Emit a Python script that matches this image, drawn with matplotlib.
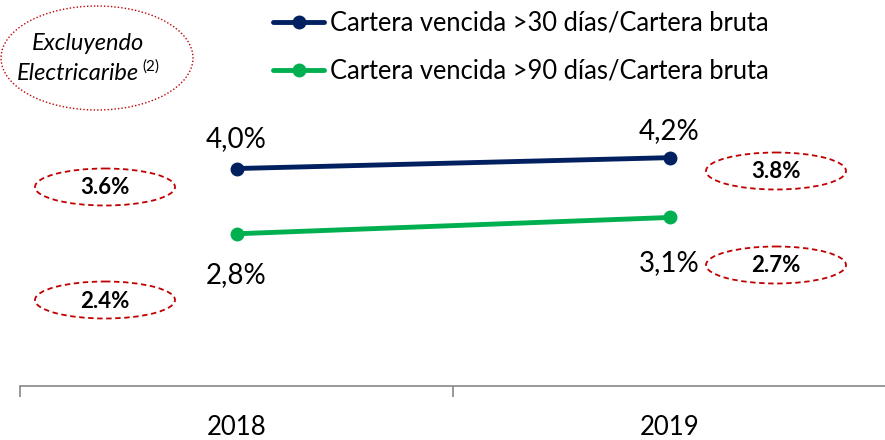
import numpy as np
import matplotlib.pyplot as plt
from matplotlib.patches import Ellipse

plt.rcParams['font.family'] = ['Lato', 'DejaVu Sans']

years = ['2018', '2019']
venc30 = [4.0, 4.2]
venc90 = [2.8, 3.1]
lbl30 = ['4,0%', '4,2%']
lbl90 = ['2,8%', '3,1%']
name30 = 'Cartera vencida >30 días/Cartera bruta'
name90 = 'Cartera vencida >90 días/Cartera bruta'
excl_30 = ['3.6%', '3.8%']
excl_90 = ['2.4%', '2.7%']

navy = '#002060'
green = '#00B050'
red = '#C00000'

fig = plt.figure(figsize=(8.85, 4.4), dpi=100)
ax = fig.add_axes([20/885, 54/440, 866/885, 386/440])
x = np.arange(len(years))
ax.plot(x, venc30, color=navy, lw=3.5, marker='o', ms=9, solid_capstyle='round')
ax.plot(x, venc90, color=green, lw=3.5, marker='o', ms=9, solid_capstyle='round')
for i in x:
    ax.annotate(lbl30[i], (x[i], venc30[i]), xytext=(0, 21 if i == 0 else 19),
                textcoords='offset points', ha='center', va='center', fontsize=20)
    ax.annotate(lbl90[i], (x[i], venc90[i]), xytext=(0, -30 if i == 0 else -33),
                textcoords='offset points', ha='center', va='center', fontsize=20)
ax.set_xlim(-0.5, 1.5)
ax.set_ylim(0, 7.1)
ax.set_yticks([])
for s in ['top', 'right', 'left']:
    ax.spines[s].set_visible(False)
ax.spines['bottom'].set_color('#878787')
ax.spines['bottom'].set_linewidth(1.2)
ax.set_xticks(x)
ax.set_xticklabels(years, fontsize=18.5)
ax.tick_params(axis='x', which='major', length=0, pad=21)
ax.set_xticks([-0.5, 0.5, 1.5], minor=True)
ax.tick_params(axis='x', which='minor', length=8, color='#878787', width=1.2)

# overlay in pixel coordinates for legend and notes
ov = fig.add_axes([0, 0, 1, 1], facecolor='none')
ov.set_xlim(0, 885)
ov.set_ylim(440, 0)
ov.axis('off')
for yy, col, nm in [(22, navy, name30), (70, green, name90)]:
    ov.plot([273, 324], [yy, yy], color=col, lw=3.5, solid_capstyle='round')
    ov.plot([299], [yy], 'o', color=col, ms=9)
    ov.text(330, yy + 1, nm, fontsize=18.4, va='center', ha='left')

ov.add_patch(Ellipse((97, 58), 192, 104, fill=False, ec=red, ls=(0, (1, 1.5)), lw=1))
ov.text(88, 43, 'Excluyendo', fontsize=17, style='italic', ha='center', va='center')
ov.text(78, 74, 'Electricaribe', fontsize=17, style='italic', ha='center', va='center')
ov.text(142, 67, '(2)', fontsize=11, ha='left', va='center')

for cx, v30, v90 in [(105, excl_30[0], excl_90[0]), (776, excl_30[1], excl_90[1])]:
    y30 = 187 if cx < 400 else 171
    y90 = 300 if cx < 400 else 265
    for yy, t in [(y30, v30), (y90, v90)]:
        ov.add_patch(Ellipse((cx, yy), 140, 37, fill=False, ec=red, ls=(0, (3, 2)), lw=1.3))
        ov.text(cx, yy + 1, t, fontsize=16, weight='bold', ha='center', va='center')

fig.savefig('out.png', dpi=100)
